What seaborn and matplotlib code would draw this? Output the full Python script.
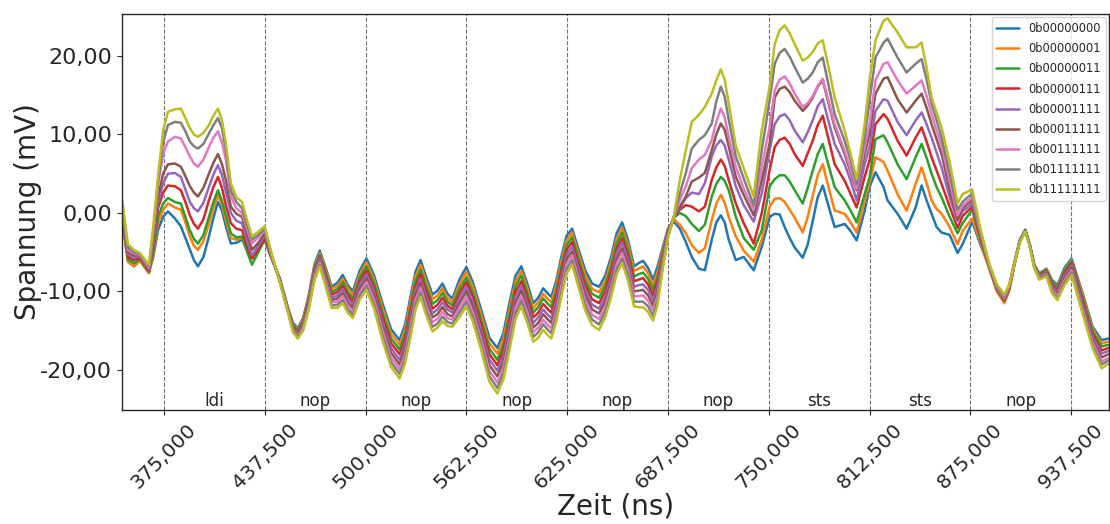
import matplotlib
matplotlib.use("Agg")
import matplotlib.pyplot as plt
import pandas as pd
import seaborn as sns

# Sample times (ns), one line per instruction cycle
zeit = [
    349.0, 352.7, 356.4, 360.1, 365.7, 368.5, 371.3, 374.5, 377.5, 381.8, 385.5, 388.3, 391.1, 393.6, 396.1, 399.5, 402.9, 405.7, 408.5, 411.0, 413.4, 416.5, 419.9, 423.4, 426.5, 429.6, 433.5, 437.5,
    441.8, 446.8, 451.8, 455.0, 458.0, 461.3, 464.8, 468.3, 471.6, 475.3, 479.0, 482.5, 485.9, 489.0, 492.1, 496.5, 500.6,
    505.2, 510.5, 515.8, 521.1, 524.5, 527.9, 531.0, 534.1, 537.8, 541.5, 544.6, 547.7, 550.8, 553.9, 558.2, 562.5,
    566.5, 571.8, 576.8, 581.7, 585.5, 589.2, 593.0, 596.6, 600.3, 604.0, 607.1, 610.2, 612.7, 615.2, 618.3, 621.4, 624.7, 628.1,
    632.0, 636.2, 640.5, 644.8, 648.6, 652.3, 655.7, 659.1, 662.8, 666.5, 669.3, 672.1, 675.2, 678.3, 681.1, 683.9, 687.5, 691.2,
    694.9, 698.6, 702.3, 706.7, 710.4, 714.7, 717.5, 720.3, 722.7, 725.2, 729.6, 734.5, 740.7, 745.7, 750.6,
    753.7, 756.8, 759.9, 763.0, 766.1, 771.1, 774.2, 777.3, 780.4, 783.5, 787.2, 790.9, 797.1, 800.8, 804.5, 809.5,
    812.5, 816.2, 821.2, 823.7, 829.9, 835.5, 841.1, 844.8, 847.9, 851.0, 854.1, 857.2, 862.2, 867.1, 870.2,
    876.2, 881.2, 886.8, 891.5, 896.1, 899.2, 902.3, 905.7, 909.1, 911.9, 914.7, 917.8, 922.2, 925.6, 929.0, 933.4, 937.8, 944.6, 950.8, 956.4, 960.7,
]

# Mean voltage traces (mV) per processed data byte
v_00000000 = [
    -0.8, -6.2, -6.8, -6.0, -7.6, -5.5, -2.2, -0.5, 0.2, -0.7, -1.7, -3.2, -4.7, -6.0, -6.8, -5.6, -3.0, -0.6, 1.4, 0.3, -1.7, -3.9, -3.8, -3.4, -4.6, -5.6, -4.5, -3.4,
    -5.8, -8.3, -12.0, -14.0, -14.7, -13.4, -10.5, -6.6, -4.8, -7.0, -9.4, -8.9, -7.9, -9.2, -10.0, -7.3, -5.8,
    -7.9, -11.5, -14.8, -16.2, -14.2, -10.7, -7.5, -6.0, -8.3, -10.4, -9.9, -9.0, -10.3, -10.9, -8.5, -6.9,
    -8.8, -12.4, -15.9, -17.2, -15.3, -11.5, -8.0, -6.8, -9.0, -11.5, -10.8, -9.6, -10.2, -10.7, -8.6, -5.6, -2.9, -2.0,
    -4.6, -7.3, -9.0, -9.4, -8.0, -5.6, -2.6, -1.2, -3.5, -6.8, -6.4, -6.1, -7.0, -8.5, -6.8, -4.7, -2.0, -1.1,
    -2.0, -3.7, -5.6, -7.1, -7.3, -3.4, -1.2, -0.3, -1.2, -3.4, -6.0, -5.6, -7.3, -4.3, -0.5,
    -0.1, -0.2, -1.8, -3.2, -4.4, -5.7, -4.0, -1.0, 2.0, 3.5, 0.8, -1.8, -1.4, -2.3, -3.5, 0.3,
    3.3, 5.2, 3.3, 1.6, -0.1, -2.0, 0.7, 3.5, 1.6, -0.1, -1.8, -2.5, -2.8, -5.1, -4.0,
    -1.1, -4.0, -6.9, -9.6, -10.9, -9.4, -6.4, -3.6, -2.3, -4.0, -6.6, -7.7, -7.1, -8.5, -9.2, -7.0, -5.8, -10.2, -14.5, -16.2, -16.0,
]
v_00000001 = [
    -0.4, -6.2, -6.8, -6.1, -7.7, -5.2, -1.3, 0.4, 1.2, 0.7, 0.4, -1.2, -3.0, -4.2, -4.7, -3.6, -1.4, 0.6, 2.3, 1.0, -0.9, -3.2, -3.4, -3.2, -4.6, -5.8, -4.5, -3.0,
    -5.7, -8.4, -12.1, -14.2, -14.9, -13.6, -10.7, -6.9, -5.1, -7.3, -9.7, -9.3, -8.4, -9.6, -10.4, -7.8, -6.3,
    -8.4, -12.1, -15.4, -16.8, -14.8, -11.3, -8.1, -6.6, -8.9, -11.0, -10.5, -9.6, -10.8, -11.4, -9.1, -7.5,
    -9.4, -13.0, -16.6, -17.9, -16.0, -12.3, -8.7, -7.4, -9.6, -12.1, -11.4, -10.3, -10.9, -11.4, -9.2, -6.2, -3.5, -2.5,
    -5.2, -7.9, -9.7, -10.1, -8.7, -6.2, -3.3, -1.9, -4.1, -7.4, -7.1, -6.8, -7.7, -9.2, -7.5, -5.1, -2.2, -0.8,
    -1.5, -2.6, -4.1, -5.1, -4.5, -0.9, 1.2, 2.3, 1.3, -0.5, -3.0, -4.8, -6.2, -3.4, 0.8,
    1.8, 1.9, 1.4, 0.4, -0.6, -2.5, -0.5, 2.2, 4.8, 6.2, 3.2, 0.3, -0.1, -1.2, -2.5, 1.5,
    3.8, 7.1, 6.5, 5.4, 2.4, 0.3, 3.7, 5.8, 3.8, 1.6, 0.5, -0.1, -1.8, -4.0, -2.3,
    -0.7, -3.7, -7.2, -10.0, -11.5, -9.9, -6.7, -3.7, -2.3, -4.1, -6.7, -7.8, -7.1, -8.7, -9.5, -7.3, -6.0, -10.5, -14.8, -16.6, -16.4,
]
v_00000011 = [
    -0.2, -5.9, -6.4, -5.9, -7.5, -4.9, -0.5, 1.2, 1.9, 1.4, 1.2, -0.5, -2.2, -3.3, -3.9, -2.8, -0.5, 1.4, 2.9, 1.5, -0.3, -2.6, -3.1, -3.0, -4.9, -6.6, -5.0, -3.4,
    -5.8, -8.4, -12.2, -14.3, -15.0, -13.8, -11.0, -7.1, -5.3, -7.6, -10.1, -9.7, -8.8, -10.1, -10.9, -8.2, -6.8,
    -8.9, -12.7, -16.0, -17.4, -15.4, -12.0, -8.7, -7.2, -9.5, -11.6, -11.1, -10.2, -11.3, -11.8, -9.7, -8.2,
    -10.1, -13.7, -17.3, -18.7, -16.8, -13.0, -9.3, -8.0, -10.2, -12.7, -12.0, -10.9, -11.5, -12.0, -9.9, -6.9, -4.1, -3.1,
    -5.8, -8.6, -10.3, -10.8, -9.3, -6.9, -3.9, -2.5, -4.8, -8.1, -7.8, -7.6, -8.4, -9.8, -8.1, -5.5, -2.3, -0.6,
    0.0, -0.4, -1.4, -2.3, -1.5, 2.1, 3.7, 4.6, 4.1, 2.9, -0.5, -3.2, -4.7, -2.2, 3.4,
    4.3, 4.8, 4.8, 4.0, 2.9, 1.2, 3.2, 5.4, 7.5, 8.8, 6.0, 3.3, 1.6, 0.3, -1.2, 2.4,
    4.5, 9.4, 9.9, 9.0, 6.2, 4.3, 7.1, 8.8, 7.0, 5.0, 3.3, 2.0, -0.5, -2.6, -1.3,
    0.4, -3.3, -7.0, -9.8, -11.2, -9.7, -6.6, -3.7, -2.3, -4.1, -6.7, -7.8, -7.2, -8.8, -9.6, -7.4, -6.1, -10.8, -15.1, -17.0, -16.8,
]
v_00000111 = [
    0.0, -5.6, -6.0, -5.7, -7.4, -4.2, 0.6, 2.6, 3.5, 3.4, 2.9, 1.4, -0.3, -1.4, -2.0, -0.8, 1.6, 3.3, 4.6, 3.2, 1.0, -1.3, -2.0, -2.2, -4.2, -5.8, -4.6, -3.2,
    -5.7, -8.5, -12.2, -14.5, -15.2, -14.0, -11.2, -7.4, -5.6, -7.9, -10.4, -10.1, -9.3, -10.5, -11.3, -8.7, -7.3,
    -9.5, -13.3, -16.6, -18.0, -16.1, -12.6, -9.3, -7.8, -10.1, -12.2, -11.7, -10.8, -11.8, -12.3, -10.3, -8.8,
    -10.7, -14.3, -18.0, -19.4, -17.5, -13.8, -10.0, -8.7, -10.8, -13.3, -12.7, -11.6, -12.2, -12.7, -10.5, -7.5, -4.7, -3.7,
    -6.4, -9.2, -11.0, -11.5, -10.0, -7.5, -4.6, -3.2, -5.4, -8.7, -8.5, -8.3, -9.1, -10.5, -8.7, -5.8, -2.5, -0.5,
    0.4, 1.0, 0.8, 0.2, 0.8, 4.2, 5.8, 6.8, 6.0, 4.2, 1.2, -1.3, -3.9, 0.0, 5.5,
    8.4, 9.3, 9.6, 8.8, 7.5, 6.0, 7.6, 9.2, 11.2, 12.4, 9.3, 6.2, 4.1, 2.4, 0.7, 4.6,
    6.7, 11.3, 12.6, 12.0, 9.2, 7.3, 9.6, 10.9, 9.1, 7.1, 5.4, 3.7, 0.8, -1.9, -0.4,
    0.8, -3.0, -6.9, -9.7, -11.1, -9.6, -6.5, -3.6, -2.2, -4.1, -6.8, -7.9, -7.4, -9.1, -9.9, -7.7, -6.4, -11.1, -15.5, -17.5, -17.2,
]
v_00001111 = [
    0.3, -5.3, -5.7, -5.5, -7.3, -3.8, 1.2, 3.8, 5.0, 5.1, 4.6, 3.0, 1.4, 0.6, 0.2, 1.3, 3.3, 4.9, 6.1, 4.8, 2.7, 0.0, -1.0, -1.3, -3.5, -5.4, -4.2, -2.8,
    -5.6, -8.5, -12.3, -14.6, -15.4, -14.2, -11.4, -7.6, -5.8, -8.2, -10.8, -10.5, -9.7, -10.9, -11.7, -9.1, -7.8,
    -10.0, -13.9, -17.2, -18.7, -16.7, -13.3, -9.9, -8.4, -10.7, -12.8, -12.3, -11.4, -12.3, -12.7, -10.9, -9.4,
    -11.3, -15.0, -18.7, -20.1, -18.2, -14.5, -10.7, -9.3, -11.5, -14.0, -13.3, -12.3, -12.9, -13.4, -11.2, -8.2, -5.3, -4.3,
    -7.0, -9.9, -11.7, -12.2, -10.7, -8.2, -5.2, -3.8, -6.0, -9.4, -9.2, -9.1, -9.8, -11.1, -9.3, -6.2, -2.6, -0.5,
    0.6, 1.9, 2.6, 2.4, 3.8, 7.2, 8.6, 9.3, 8.6, 6.8, 3.4, 1.0, -1.1, 2.5, 8.0,
    11.3, 12.3, 12.6, 11.8, 10.5, 9.0, 10.3, 11.8, 13.6, 14.5, 11.6, 8.8, 6.2, 4.1, 1.6, 6.2,
    8.4, 13.0, 14.5, 14.3, 11.6, 9.9, 11.8, 12.8, 11.3, 9.6, 7.7, 5.8, 2.0, -1.0, 0.2,
    1.2, -2.8, -6.8, -9.6, -11.0, -9.5, -6.5, -3.6, -2.2, -4.1, -6.8, -8.0, -7.5, -9.3, -10.1, -8.0, -6.7, -11.5, -15.8, -17.9, -17.6,
]
v_00011111 = [
    0.5, -5.0, -5.4, -5.4, -7.2, -3.3, 2.0, 5.0, 6.2, 6.3, 5.9, 4.7, 3.4, 2.6, 2.1, 3.2, 5.0, 6.4, 7.5, 6.2, 4.2, 0.8, -0.1, -0.5, -2.6, -4.7, -3.8, -2.6,
    -5.5, -8.6, -12.4, -14.7, -15.5, -14.4, -11.6, -7.9, -6.1, -8.5, -11.1, -10.9, -10.2, -11.4, -12.1, -9.6, -8.3,
    -10.5, -14.4, -17.8, -19.3, -17.3, -13.9, -10.5, -8.9, -11.3, -13.3, -12.9, -12.0, -12.9, -13.2, -11.5, -10.0,
    -11.9, -15.6, -19.4, -20.8, -19.0, -15.3, -11.4, -9.9, -12.1, -14.6, -14.0, -12.9, -13.5, -14.0, -11.8, -8.8, -5.9, -4.9,
    -7.6, -10.5, -12.3, -12.8, -11.3, -8.8, -5.9, -4.5, -6.7, -10.0, -9.9, -9.8, -10.5, -11.8, -9.9, -6.6, -2.8, -0.5,
    0.8, 2.1, 4.0, 4.5, 5.1, 8.0, 10.0, 11.4, 10.6, 8.5, 4.6, 2.3, -0.3, 4.2, 8.9,
    14.7, 15.8, 16.1, 15.4, 14.3, 13.0, 13.7, 14.7, 16.1, 16.9, 13.9, 10.9, 7.5, 5.2, 2.9, 7.5,
    10.1, 15.2, 17.1, 17.3, 14.5, 12.8, 14.3, 15.2, 13.4, 11.3, 9.4, 7.5, 3.0, -0.8, 0.6,
    1.7, -2.6, -6.8, -9.5, -10.9, -9.4, -6.4, -3.6, -2.2, -4.2, -6.9, -8.1, -7.6, -9.5, -10.4, -8.3, -7.0, -11.8, -16.2, -18.4, -18.0,
]
v_00111111 = [
    0.8, -4.7, -5.2, -5.3, -7.0, -2.5, 3.5, 7.5, 9.1, 9.7, 9.5, 8.4, 7.2, 6.3, 5.9, 6.8, 8.4, 9.6, 10.4, 9.0, 6.8, 2.1, 0.6, 0.0, -2.0, -3.9, -3.1, -2.2,
    -5.4, -8.7, -12.4, -14.9, -15.7, -14.6, -11.9, -8.1, -6.3, -8.8, -11.4, -11.3, -10.6, -11.8, -12.6, -10.1, -8.8,
    -11.0, -15.0, -18.4, -19.9, -18.0, -14.5, -11.1, -9.5, -11.9, -13.9, -13.5, -12.6, -13.4, -13.6, -12.1, -10.7,
    -12.6, -16.2, -20.1, -21.6, -19.7, -16.0, -12.1, -10.6, -12.7, -15.2, -14.6, -13.6, -14.2, -14.7, -12.5, -9.4, -6.5, -5.4,
    -8.2, -11.1, -13.0, -13.5, -12.0, -9.4, -6.5, -5.1, -7.3, -10.6, -10.6, -10.5, -11.2, -12.4, -10.5, -7.0, -2.9, -0.5,
    1.7, 3.4, 5.7, 6.8, 7.4, 9.3, 11.6, 13.3, 12.2, 9.7, 5.9, 3.1, 0.4, 5.9, 11.0,
    15.6, 17.0, 17.4, 16.5, 15.2, 13.5, 14.0, 14.9, 16.2, 17.1, 14.2, 11.3, 7.9, 5.6, 3.1, 8.4,
    11.3, 16.9, 19.0, 19.2, 16.9, 15.2, 16.2, 16.9, 14.9, 12.6, 10.5, 8.6, 4.0, -0.3, 0.9,
    2.0, -2.4, -6.7, -9.4, -10.8, -9.3, -6.4, -3.5, -2.2, -4.2, -6.9, -8.2, -7.8, -9.7, -10.6, -8.6, -7.3, -12.2, -16.5, -18.9, -18.5,
]
v_01111111 = [
    1.2, -4.4, -5.0, -5.2, -6.8, -2.0, 3.9, 9.0, 11.2, 11.6, 11.5, 10.4, 9.1, 8.5, 8.2, 8.8, 10.1, 11.2, 12.1, 10.8, 8.0, 2.9, 1.4, 0.6, -1.5, -3.4, -2.8, -2.0,
    -5.3, -8.7, -12.5, -15.0, -15.8, -14.8, -12.1, -8.4, -6.6, -9.1, -11.8, -11.7, -11.1, -12.3, -13.0, -10.5, -9.3,
    -11.6, -15.6, -19.0, -20.5, -18.6, -15.2, -11.7, -10.1, -12.5, -14.5, -14.1, -13.2, -13.9, -14.1, -12.7, -11.3,
    -13.2, -16.9, -20.8, -22.3, -20.4, -16.8, -12.8, -11.2, -13.3, -15.8, -15.2, -14.2, -14.8, -15.3, -13.1, -10.1, -7.1, -6.0,
    -8.8, -11.8, -13.6, -14.2, -12.6, -10.1, -7.2, -5.8, -7.9, -11.3, -11.3, -11.3, -11.9, -13.1, -11.1, -7.3, -3.1, -0.5,
    2.5, 5.1, 8.2, 9.3, 9.9, 11.4, 14.2, 16.1, 14.8, 11.9, 7.2, 4.4, 1.0, 8.0, 14.4,
    19.0, 20.4, 20.9, 19.9, 18.6, 16.6, 17.1, 17.9, 19.2, 19.8, 16.2, 12.6, 9.2, 6.7, 3.7, 9.6,
    14.3, 19.8, 21.7, 22.2, 19.8, 17.9, 19.0, 19.6, 17.0, 13.9, 11.8, 9.6, 5.0, 0.4, 1.4,
    2.5, -2.2, -6.6, -9.3, -10.6, -9.1, -6.3, -3.4, -2.1, -4.1, -6.9, -8.3, -7.9, -10.0, -10.9, -8.9, -7.6, -12.5, -16.9, -19.3, -18.8,
]
v_11111111 = [
    1.7, -4.0, -4.7, -5.1, -6.6, -1.5, 4.6, 10.5, 12.9, 13.2, 13.3, 12.1, 10.8, 10.0, 9.7, 10.2, 11.2, 12.4, 13.3, 11.8, 8.9, 3.8, 2.0, 1.4, -0.9, -3.0, -2.4, -1.7,
    -5.2, -8.8, -12.6, -15.2, -16.0, -15.0, -12.3, -8.6, -6.8, -9.4, -12.1, -12.1, -11.5, -12.7, -13.4, -11.0, -9.8,
    -12.1, -16.2, -19.6, -21.1, -19.2, -15.8, -12.3, -10.7, -13.1, -15.1, -14.6, -13.8, -14.4, -14.5, -13.3, -11.9,
    -13.8, -17.5, -21.5, -23.0, -21.2, -17.5, -13.5, -11.9, -14.0, -16.4, -15.9, -14.9, -15.5, -16.0, -13.8, -10.7, -7.7, -6.6,
    -9.4, -12.4, -14.3, -14.9, -13.3, -10.7, -7.8, -6.4, -8.6, -11.9, -12.0, -12.0, -12.6, -13.7, -11.7, -7.7, -3.2, -0.4,
    4.2, 8.0, 11.6, 12.5, 13.5, 15.2, 16.9, 18.3, 17.0, 14.0, 8.5, 5.7, 2.1, 10.6, 16.1,
    21.5, 23.3, 23.9, 22.9, 21.5, 19.4, 19.8, 20.5, 21.6, 22.0, 18.5, 14.7, 10.5, 7.5, 4.3, 11.3,
    16.9, 22.0, 24.5, 24.8, 23.0, 21.1, 21.1, 21.7, 18.5, 14.7, 12.8, 10.9, 6.5, 1.2, 2.4,
    3.0, -2.0, -6.5, -9.1, -10.4, -9.1, -6.5, -3.8, -2.4, -4.4, -7.1, -8.5, -8.1, -10.2, -11.1, -9.2, -7.9, -12.8, -17.2, -19.8, -19.2,
]

muster = [
    "0b00000000", "0b00000001", "0b00000011", "0b00000111", "0b00001111",
    "0b00011111", "0b00111111", "0b01111111", "0b11111111",
]
spuren = [
    v_00000000, v_00000001, v_00000011, v_00000111, v_00001111,
    v_00011111, v_00111111, v_01111111, v_11111111,
]

# Instruction boundaries (ns) and the instruction executed in each cycle
takt_grenzen = [375.0, 437.5, 500.0, 562.5, 625.0, 687.5, 750.0, 812.5, 875.0, 937.5]
befehle = ["ldi", "nop", "nop", "nop", "nop", "nop", "sts", "sts", "nop"]
y_ticks = [-20, -10, 0, 10, 20]

for werte in spuren:
    assert len(werte) == len(zeit)

rows = []
for name, werte in zip(muster, spuren):
    for t, v in zip(zeit, werte):
        rows.append({"Zeit": t, "Spannung": v, "Muster": name})
df = pd.DataFrame(rows)

sns.set_style("ticks")
plt.rcParams["font.family"] = ["DejaVu Sans"]

fig = plt.figure(figsize=(11.10, 5.24), dpi=100)
ax = fig.add_axes([0.1099, 0.2176, 0.8892, 0.7557])

for g in takt_grenzen:
    ax.axvline(g, color="0.45", linestyle="--", linewidth=0.8, zorder=0)

sns.lineplot(
    data=df, x="Zeit", y="Spannung", hue="Muster", hue_order=muster,
    palette="tab10", linewidth=1.8, errorbar=None, ax=ax, zorder=2,
)

for i, name in enumerate(befehle):
    mitte = 0.5 * (takt_grenzen[i] + takt_grenzen[i + 1])
    ax.text(mitte, -23.9, name, ha="center", va="center", fontsize=12)

ax.set_xlim(349.0, 961.0)
ax.set_ylim(-25.1, 25.35)
ax.set_xticks(takt_grenzen)
ax.set_xticklabels([f"{g:.3f}".replace(".", ",") for g in takt_grenzen],
                   rotation=45, fontsize=14.5)
ax.set_yticks(y_ticks)
ax.set_yticklabels([f"{v:.2f}".replace(".", ",") for v in y_ticks], fontsize=16)
ax.set_xlabel("Zeit (ns)", fontsize=20, labelpad=0)
ax.set_ylabel("Spannung (mV)", fontsize=20, labelpad=-1)

for s in ax.spines.values():
    s.set_color("0.15")
    s.set_linewidth(1.0)

handles, labels = ax.get_legend_handles_labels()
ax.legend(handles, labels, loc="upper right", fontsize=8.3, frameon=True,
          labelspacing=0.62, borderaxespad=0.3)

fig.savefig("out.png", dpi=100)
